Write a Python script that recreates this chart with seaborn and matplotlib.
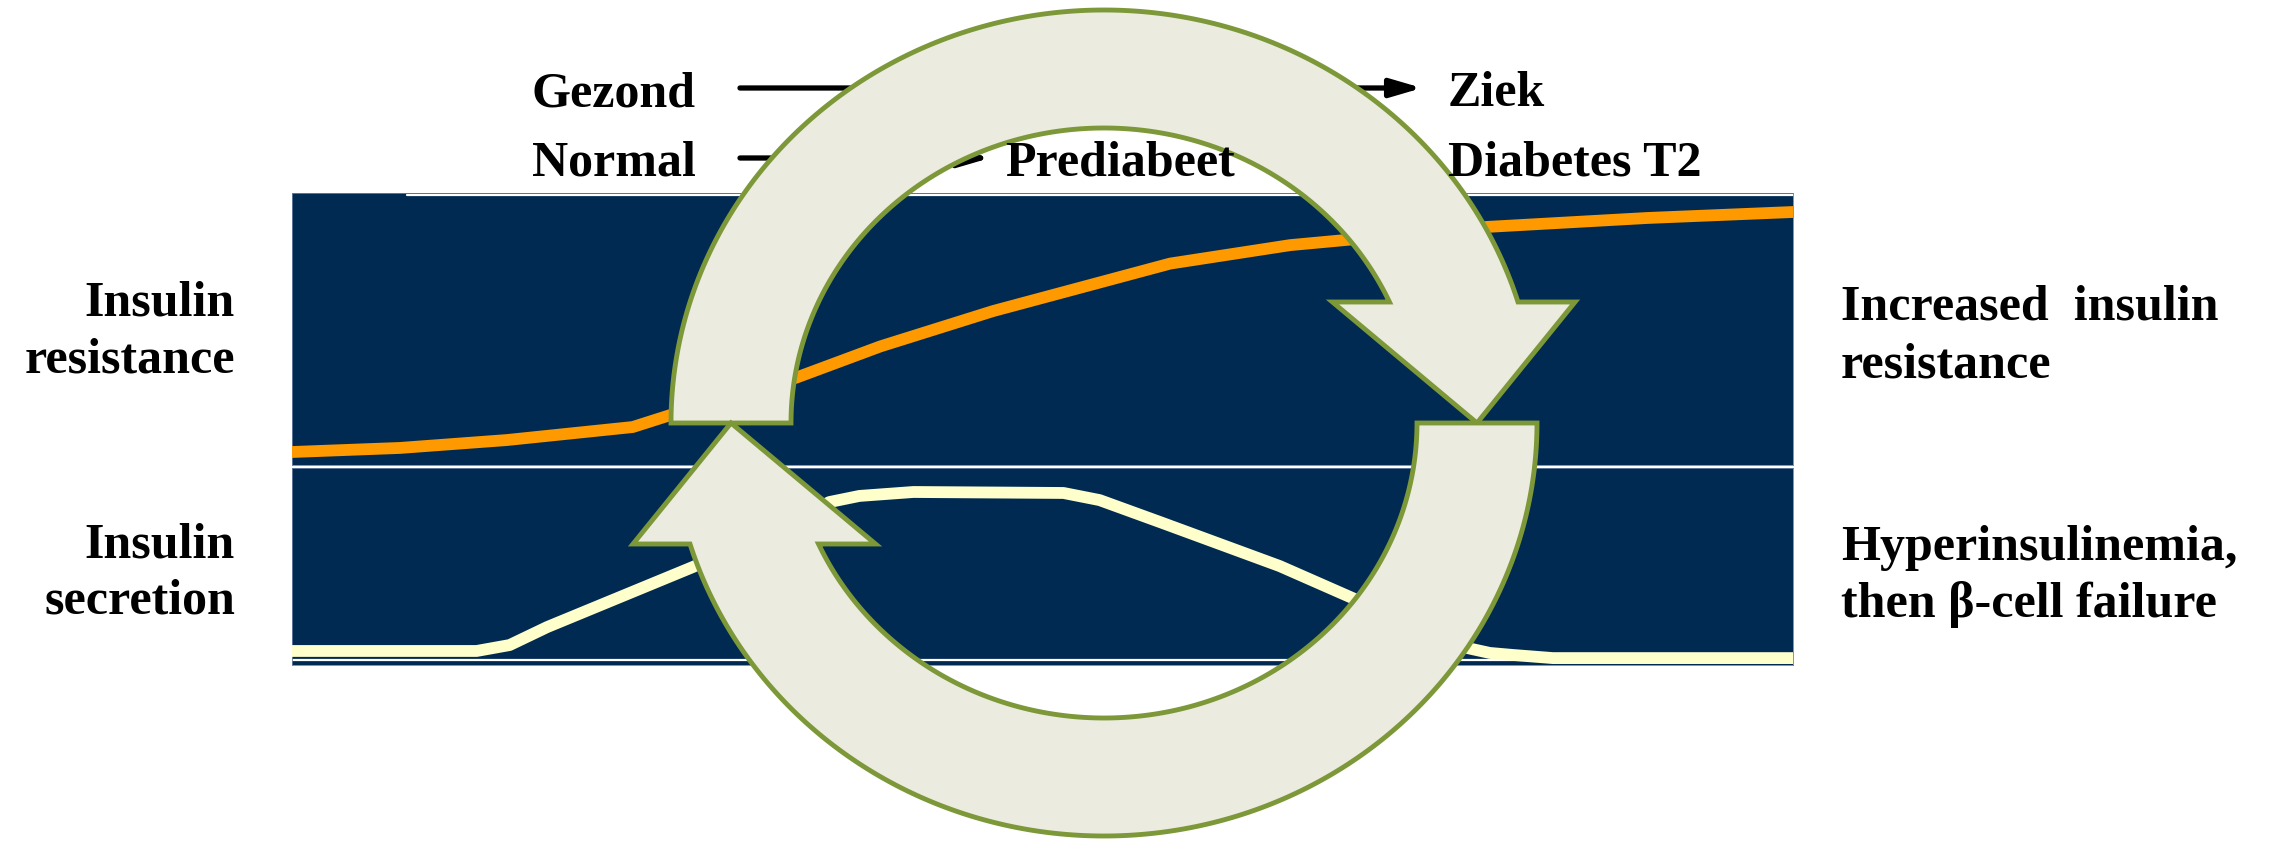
import numpy as np
import seaborn as sns
import matplotlib.pyplot as plt
from matplotlib.patches import Polygon

W, H = 2285, 841

# disease progression (0 = healthy, 100 = diabetes)
stage_res = [0, 7.2, 14.3, 22.7, 25.2, 33.6, 39.2, 46.7, 58.5, 66.5, 79.6, 90.3, 100]
resistance = [4.6, 6.1, 9.0, 13.8, 18.2, 32.0, 43.5, 56.5, 74.0, 80.8, 87.5, 90.8, 93.0]

stage_sec = [0, 12.3, 14.5, 17.0, 26.7, 32.5, 35.8, 37.8, 41.4, 51.4, 53.8, 58.0,
             65.8, 71.4, 78.3, 79.8, 81.3, 84.0, 100]
secretion = [7.1, 7.1, 10.1, 19.2, 49.6, 69.4, 82.5, 85.6, 87.6, 87.1, 83.5, 71.9,
             50.1, 31.4, 8.6, 6.1, 5.1, 3.5, 3.5]

left_labels = [("Insulin", 315), ("resistance", 372), ("Insulin", 557), ("secretion", 613)]
right_labels = [("Increased  insulin", 320), ("resistance", 377),
                ("Hyperinsulinemia,", 560), ("then \u03b2-cell failure", 617)]
top_labels = [("Gezond", 532, 106), ("Normal", 532, 175), ("Prediabeet", 1005, 175),
              ("Ziek", 1448, 106), ("Diabetes T2", 1448, 175)]

NAVY = "#012a52"
ORANGE = "#ff9900"
CREAM = "#ffffcc"
RING_FILL = "#ecebe0"
RING_EDGE = "#7d9838"

sns.set_style("white")
plt.rcParams['font.family'] = ['Liberation Serif', 'DejaVu Serif']

fig = plt.figure(figsize=(W / 100, H / 100), dpi=100)


def px_axes(x0, y0, x1, y1, **kw):
    return fig.add_axes([x0 / W, 1 - y1 / H, (x1 - x0) / W, (y1 - y0) / H], **kw)


ax_top = px_axes(292, 193, 1793, 464.5)
ax_bot = px_axes(292, 467.5, 1793, 665)
for ax in (ax_top, ax_bot):
    ax.set_facecolor(NAVY)
    ax.set_xlim(0, 100)
    ax.set_ylim(0, 100)
    ax.set_xticks([])
    ax.set_yticks([])
    for s in ax.spines.values():
        s.set_color("#6a82a3")
        s.set_linewidth(0.6)

ax_top.axhline(99.1, xmin=0.0766, color="white", lw=1.6, zorder=1)
ax_bot.axhline(2.5, color="white", lw=1.6, zorder=1)

sns.lineplot(x=stage_res, y=resistance, ax=ax_top, color=ORANGE, linewidth=8.5,
             solid_capstyle="round", zorder=3)
sns.lineplot(x=stage_sec, y=secretion, ax=ax_bot, color=CREAM, linewidth=8.5,
             solid_capstyle="round", zorder=3)
for ax in (ax_top, ax_bot):
    ax.set_xlabel("")
    ax.set_ylabel("")

# overlay in pixel coordinates for the diagram parts
ov = fig.add_axes([0, 0, 1, 1], zorder=5)
ov.set_xlim(0, W)
ov.set_ylim(H, 0)
ov.axis("off")
ov.patch.set_alpha(0)

# progression arrows (partly hidden by the ring)
arrow_kw = dict(arrowstyle="-|>,head_length=0.75,head_width=0.22", mutation_scale=25,
                lw=3.8, color="black", shrinkA=0, shrinkB=0)
ov.annotate("", xy=(1422, 88), xytext=(740, 88), arrowprops=arrow_kw, zorder=2)
ov.annotate("", xy=(990, 158), xytext=(740, 158), arrowprops=arrow_kw, zorder=2)

# circular arrows
cx, cy = 1104, 423
rxo, ryo = 433, 413
rxi, ryi = 313, 295
head_y, barb = 302, 57
th_o = np.degrees(np.arcsin((cy - head_y) / ryo))
th_i = np.degrees(np.arcsin((cy - head_y) / ryi))

ang_o = np.radians(np.linspace(180, th_o, 200))
ang_i = np.radians(np.linspace(th_i, 180, 200))
outer = np.column_stack([cx + rxo * np.cos(ang_o), cy - ryo * np.sin(ang_o)])
inner = np.column_stack([cx + rxi * np.cos(ang_i), cy - ryi * np.sin(ang_i)])
head = np.array([
    [outer[-1, 0] + barb, head_y],
    [cx + (rxo + rxi) / 2, cy],
    [inner[0, 0] - barb, head_y],
])
upper = np.vstack([outer, head, inner])
lower = np.column_stack([2 * cx - upper[:, 0], 2 * cy - upper[:, 1]])

for pts in (upper, lower):
    ov.add_patch(Polygon(pts, closed=True, facecolor=RING_FILL, edgecolor=RING_EDGE,
                         lw=3.5, joinstyle="miter", zorder=4))

font = dict(fontsize=36, fontweight="bold", color="black", va="baseline", zorder=6)
for txt, x, y in top_labels:
    ov.text(x, y, txt, ha="left", **font)
for txt, y in left_labels:
    ov.text(235, y, txt, ha="right", **font)
for txt, y in right_labels:
    ov.text(1841, y, txt, ha="left", **font)

fig.savefig("out.png", dpi=100)
